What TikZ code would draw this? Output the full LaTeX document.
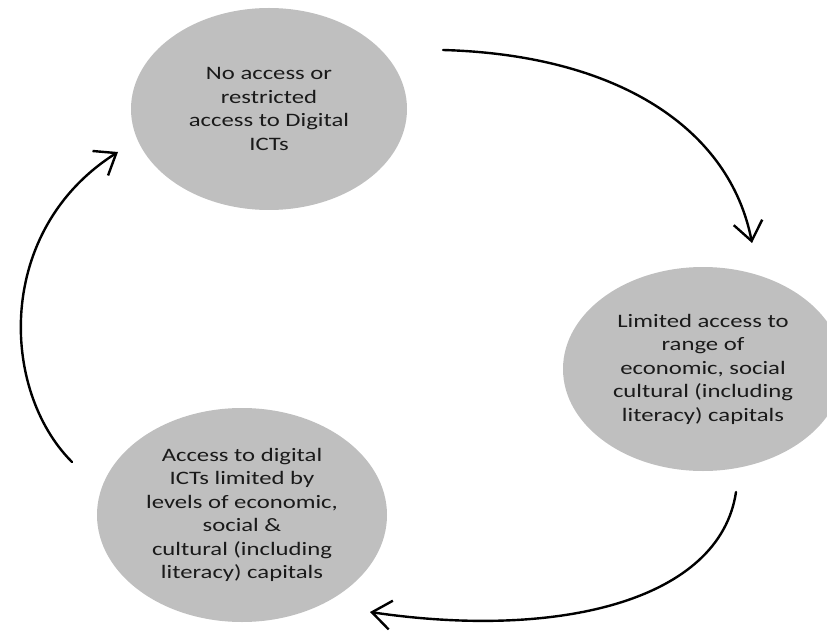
\documentclass[tikz,border=0pt]{standalone}
\usepackage{fontspec}
\setmainfont{Carlito}[FakeStretch=1.3]
\usetikzlibrary{shapes.geometric,arrows.meta}
\definecolor{bubble}{HTML}{BFBFBF}
\definecolor{ink}{HTML}{1A1A1A}
\begin{document}
\begin{tikzpicture}[x=1pt,y=-1pt,
  bubble/.style={ellipse,fill=bubble,inner sep=0pt,align=center,text=ink,
    font=\fontsize{19}{23.5}\selectfont},
  cycle/.style={line width=2.4pt,line cap=round,
    -{Straight Barb[length=19pt,width=29pt,line width=2.4pt]}}]
\useasboundingbox (0,0) rectangle (827,631);
\clip (0,0) rectangle (827,631);

% the three stages of the cycle
\node[bubble,minimum width=276pt,minimum height=202pt] (noaccess) at (269,109)
  {No access or\\restricted\\access to Digital\\ICTs};
\node[bubble,minimum width=280pt,minimum height=204pt] (capitals) at (703,369)
  {Limited access to\\range of\\economic, social\\cultural (including\\literacy) capitals};
\node[bubble,minimum width=290pt,minimum height=214pt] (limited) at (242,515)
  {Access to digital\\ICTs limited by\\levels of economic,\\social \&\\cultural (including\\literacy) capitals};

% arrow end points between the stages
\coordinate (s1) at (443,50);
\coordinate (e1) at (752,243);
\coordinate (s2) at (736,492);
\coordinate (e2) at (370,612);
\coordinate (s3) at (72,462);
\coordinate (e3) at (118,152);

\draw[cycle] (s1) .. controls (620,55) and (730,130) .. (e1);
\draw[cycle] (s2) .. controls (720,600) and (560,640) .. (e2);
\draw[cycle] (s3) .. controls (0,390) and (-5,230) .. (e3);
\end{tikzpicture}
\end{document}
